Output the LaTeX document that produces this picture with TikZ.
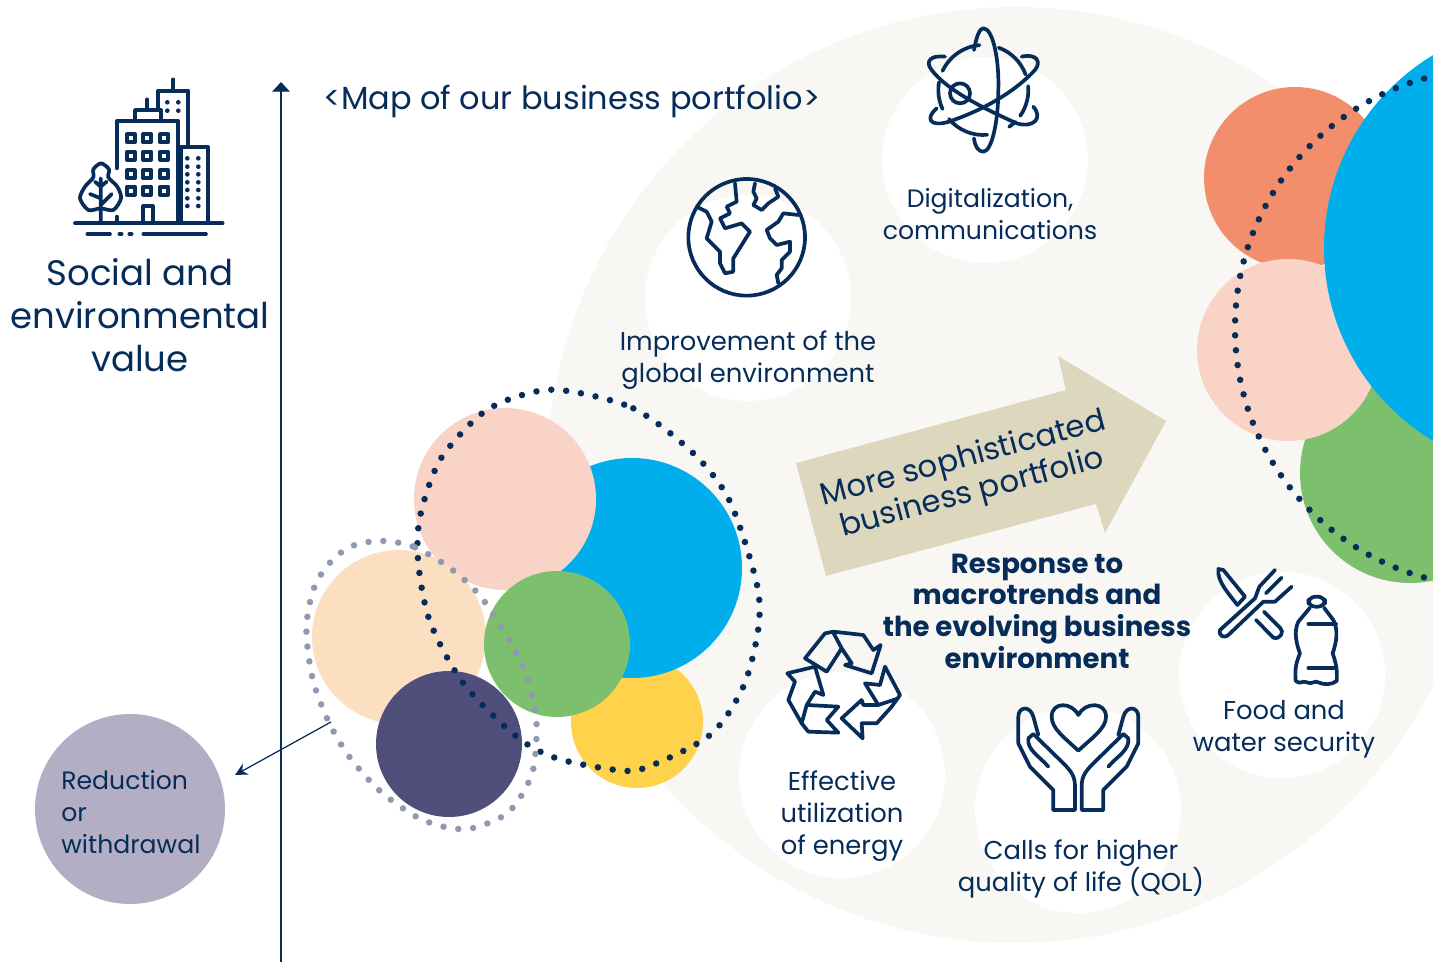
\documentclass[tikz,border=0pt]{standalone}
\usepackage{fontspec}
\setmainfont{Poppins}
\usetikzlibrary{arrows.meta}
\definecolor{navy}{HTML}{062C59}
\definecolor{sand}{HTML}{F8F7F3}
\definecolor{tan}{HTML}{DDD7BE}
\definecolor{lavender}{HTML}{B3AEC4}
\definecolor{skyblue}{HTML}{00AEEC}
\definecolor{leaf}{HTML}{7CC06E}
\definecolor{sun}{HTML}{FFD24C}
\definecolor{blush}{HTML}{F9D4C6}
\definecolor{peach}{HTML}{FBDFC0}
\definecolor{coral}{HTML}{F28E6B}
\definecolor{plum}{HTML}{504E7B}
\definecolor{slate}{HTML}{8F99B0}
\tikzset{
  icon/.style={navy, line width=2.1pt, line cap=round, line join=round},
  dotline/.style={line width=3.7pt, line cap=round, dash pattern=on 0pt off 8.5pt},
  label/.style={navy, align=center, inner sep=0pt, font=\fontsize{14.7}{18}\selectfont},
}
\begin{document}
\begin{tikzpicture}[x=0.02cm, y=-0.02cm]
            \useasboundingbox (0,0) rectangle (1433,962);
            \clip (0,0) rectangle (1433,962);
            % background disc and its white spots
            \fill [sand] (1015,475) circle (468);
            \foreach \cx/\cy in {985/160, 748/298, 842/775, 1078/810, 1282/675}
                \fill [white] (\cx,\cy) circle (103);
            % big arrow
            \fill [tan] (796,463) -- (1066,390) -- (1058,356) -- (1166,421) -- (1105,533) -- (1096,504) -- (826,576) -- cycle;
            % left cluster
            \fill [sun] (637,722) circle (66);
            \fill [skyblue] (632,568) circle (110);
            \fill [blush] (505,499) circle (91);
            \fill [peach] (399,637) circle (87);
            \fill [leaf] (557,644) circle (73);
            \fill [plum] (449,744) circle (73);
            \begin{scope}[shift={(300,380)}, scale=1/3]
                \draw [dotline, navy] plot [smooth cycle] coordinates {(780,30) (1000,85) (1180,220) (1290,365) (1370,610) (1375,745) (1330,920) (1230,1065) (1040,1162) (950,1170) (770,1135) (650,1070) (490,910) (390,725) (355,550) (360,410) (420,240) (540,105) (650,50)};
                \draw [dotline, slate] plot [smooth cycle] coordinates {(255,483) (345,502) (455,568) (550,660) (660,840) (700,965) (710,1055) (695,1185) (625,1297) (515,1345) (430,1340) (345,1308) (240,1233) (150,1133) (88,1030) (40,905) (20,775) (25,690) (50,605) (105,532) (170,493)};
            \end{scope}
            % right cluster
            \fill [coral] (1295,178) circle (91);
            \fill [leaf] (1410,473) circle (110);
            \fill [blush] (1288,350) circle (91);
            \fill [skyblue] (1549,248) circle (225);
            \draw [dotline, navy] (1494,328) circle (259);
            % axis and withdrawal arrow
            \coordinate (axisfoot) at (281,962);
            \coordinate (axistop) at (281,82);
            \draw [navy, line width=0.7pt, -{Triangle[width=10pt,length=5.5pt]}] (axisfoot) -- (axistop);
            \fill [lavender] (130,809) circle (95);
            \coordinate (dropstart) at (331,722);
            \coordinate (dropend) at (235,775);
            \draw [navy, line width=0.7pt, -{Stealth[width=7pt,length=7pt]}] (dropstart) -- (dropend);
            % texts
            \node [label, anchor=west, font=\fontsize{18.2}{20}\selectfont] (maptitle) at (323,101) {<Map of our business portfolio>};
            \node [label, font=\fontsize{20.2}{24.3}\selectfont] (axistitle) at (140,315) {Social and\\environmental\\value};
            \node [label, align=left, anchor=west, font=\fontsize{14.3}{18}\selectfont] (reduction) at (61,812) {Reduction\\or\\withdrawal};
            \node [label, font=\fontsize{14.3}{18}\selectfont] (digital) at (990,214) {Digitalization,\\communications};
            \node [label] (climate) at (748,360) {Improvement of the\\global environment};
            \node [label] (energy) at (842,816) {Effective\\utilization\\of energy};
            \node [label] (qol) at (1081,869) {Calls for higher\\quality of life (QOL)};
            \node [label] (food) at (1284,729) {Food and\\water security};
            \node [label, font=\fontsize{15.7}{18}\selectfont\bfseries] (response) at (1037,611) {Response to\\macrotrends and\\the evolving business\\environment};
            \node [label, rotate=15, font=\fontsize{17.5}{20}\selectfont] (sophisticated) at (968,477) {More sophisticated\\business portfolio};
            % building
            \begin{scope}[shift={(60,70)}, scale=1/3, icon]
                \draw (45,460) -- (488,460);
                \draw (82,492) -- (150,492) (178,492) -- (185,492) (208,492) -- (215,492) (250,492) -- (438,492);
                \draw (170,295) -- (170,153) -- (355,153) -- (355,460);
                \draw (225,153) -- (225,120) -- (302,120) -- (302,153) (262,120) -- (262,88);
                \draw (295,120) -- (295,62) -- (385,62) -- (385,225) (340,62) -- (340,28);
                \draw (362,460) -- (362,232) -- (445,232) -- (445,460);
                \draw (250,460) -- (250,408) -- (278,408) -- (278,460);
                \draw (170,440) -- (170,460);
                \foreach \wx in {213,262,313}
                    \foreach \wy in {205,257,313,362}
                        \draw (\wx-12,\wy-12) rectangle (\wx+12,\wy+12);
                \foreach \wx in {322,355}
                    \foreach \wy in {97,122}
                        \fill (\wx,\wy) circle (7);
                \foreach \wx in {382,415}
                    \foreach \wy in {265,290,313,337,360,385,408}
                        \fill (\wx,\wy) circle (7);
                \draw plot [smooth cycle] coordinates {(123,280) (147,298) (145,322) (172,350) (183,385) (160,420) (122,415) (85,420) (60,385) (75,350) (100,322) (100,298)};
                \draw (122,460) -- (122,325) (122,385) -- (90,372) (122,405) -- (155,372) (122,350) -- (105,335) (122,350) -- (140,335);
            \end{scope}
            % globe
            \begin{scope}[shift={(670,15)}, scale=1/3, icon]
                \draw (230,667) circle (175);
                \draw (195,505) -- (200,560) -- (170,575) -- (180,595) -- (150,610) -- (165,640) -- (215,625) -- (240,650) -- (215,690) -- (190,730) -- (190,770) -- (165,775) -- (150,745) -- (150,710) -- (110,670) -- (125,620) -- (110,590) -- (80,575);
                \draw (255,505) -- (250,530) -- (260,550) -- (250,570) -- (275,585) -- (295,565) -- (325,545) -- (315,520);
                \draw (385,600) -- (340,595) -- (325,620) -- (290,645) -- (300,670) -- (320,690) -- (360,680) -- (360,710) -- (335,735) -- (335,760) -- (320,780) -- (325,805);
            \end{scope}
            % atom
            \begin{scope}[shift={(670,15)}, scale=1/3, icon]
                \draw (870,235) circle (30);
                \foreach \from/\to in {205/265, 290/340, -5/35, 45/55, 85/140, 155/190}
                    \draw ([shift={(\from:135)}]940,225) arc [start angle=\from, end angle=\to, radius=135];
                \draw (912,105) .. controls (920,60) and (930,40) .. (940,40) .. controls (970,40) and (988,140) .. (985,225) .. controls (985,320) and (965,410) .. (940,410) .. controls (925,410) and (915,395) .. (912,370);
                \draw (825,125) .. controls (780,120) and (765,140) .. (785,165) .. controls (830,225) and (940,280) .. (1040,325) .. controls (1090,340) and (1120,310) .. (1090,275);
                \draw (1055,125) .. controls (1100,115) and (1115,140) .. (1095,165) .. controls (1030,235) and (930,290) .. (830,322) .. controls (780,335) and (765,310) .. (800,280);
            \end{scope}
            % recycling arrows
            \begin{scope}[shift={(770,560)}, scale=1/3, icon]
                \draw (105,295) -- (170,335) -- (215,265) -- (245,310) -- (225,315) -- (305,340) -- (332,255) -- (310,270) -- (280,225) -- (190,215) -- (165,220) -- cycle (190,218) -- (215,265);
                \draw (52,340) -- (135,320) -- (160,405) -- (135,395) -- (110,435) -- (205,440) -- (170,480) -- (205,518) -- (115,515) -- (95,490) -- (55,420) -- (75,365) -- cycle (95,490) -- (110,435);
                \draw (345,320) -- (390,405) -- (365,440) -- (320,490) -- (275,490) -- (278,535) -- (215,475) -- (275,420) -- (280,435) -- (325,435) -- (285,370) -- (330,375) -- cycle (325,435) -- (385,415);
            \end{scope}
            % hands with heart
            \begin{scope}[shift={(770,560)}, scale=1/3, icon]
                \draw (925,572) .. controls (880,530) and (845,505) .. (845,470) .. controls (845,425) and (905,425) .. (925,465) .. controls (945,425) and (1008,425) .. (1008,470) .. controls (1008,505) and (970,530) .. (925,572);
                \foreach \mx/\sx in {0/1, 1850/-1} {
                    \begin{scope}[xshift=\mx*0.02cm, xscale=\sx]
                        \draw (850,750) -- (850,690) -- (780,620) -- (745,550) -- (745,470) .. controls (745,440) and (780,435) .. (790,470) -- (805,525);
                        \draw (775,535) -- (790,522) -- (880,610) .. controls (905,635) and (915,650) .. (915,680) -- (915,750) -- (850,750);
                        \draw (775,535) .. controls (770,570) and (810,590) .. (835,620);
                    \end{scope}
                }
            \end{scope}
            % cutlery and bottle
            \begin{scope}[shift={(1200,555)}, scale=1/3, icon]
                \draw (55,42) .. controls (50,80) and (90,120) .. (112,150) -- (135,125) -- (70,45) -- cycle;
                \draw (168,195) -- (220,248) .. controls (240,255) and (255,230) .. (240,218) -- (192,170);
                \draw (225,45) -- (178,95) -- (165,130) -- (60,225) .. controls (55,245) and (75,250) .. (85,240) -- (190,140) -- (225,140) -- (275,95);
                \draw (245,68) -- (198,115);
                \draw [rounded corners=4pt] (325,125) rectangle (375,155);
                \draw (330,158) -- (295,200) .. controls (280,230) and (290,270) .. (300,295) .. controls (285,330) and (285,350) .. (287,378) .. controls (300,390) and (310,375) .. (320,382) .. controls (335,390) and (345,375) .. (355,382) .. controls (370,390) and (395,390) .. (410,378) .. controls (412,350) and (410,330) .. (398,295) .. controls (410,260) and (415,225) .. (400,195) -- (372,158);
                \draw (325,207) -- (408,207) (325,340) -- (408,340);
            \end{scope}
        \end{tikzpicture}
\end{document}
